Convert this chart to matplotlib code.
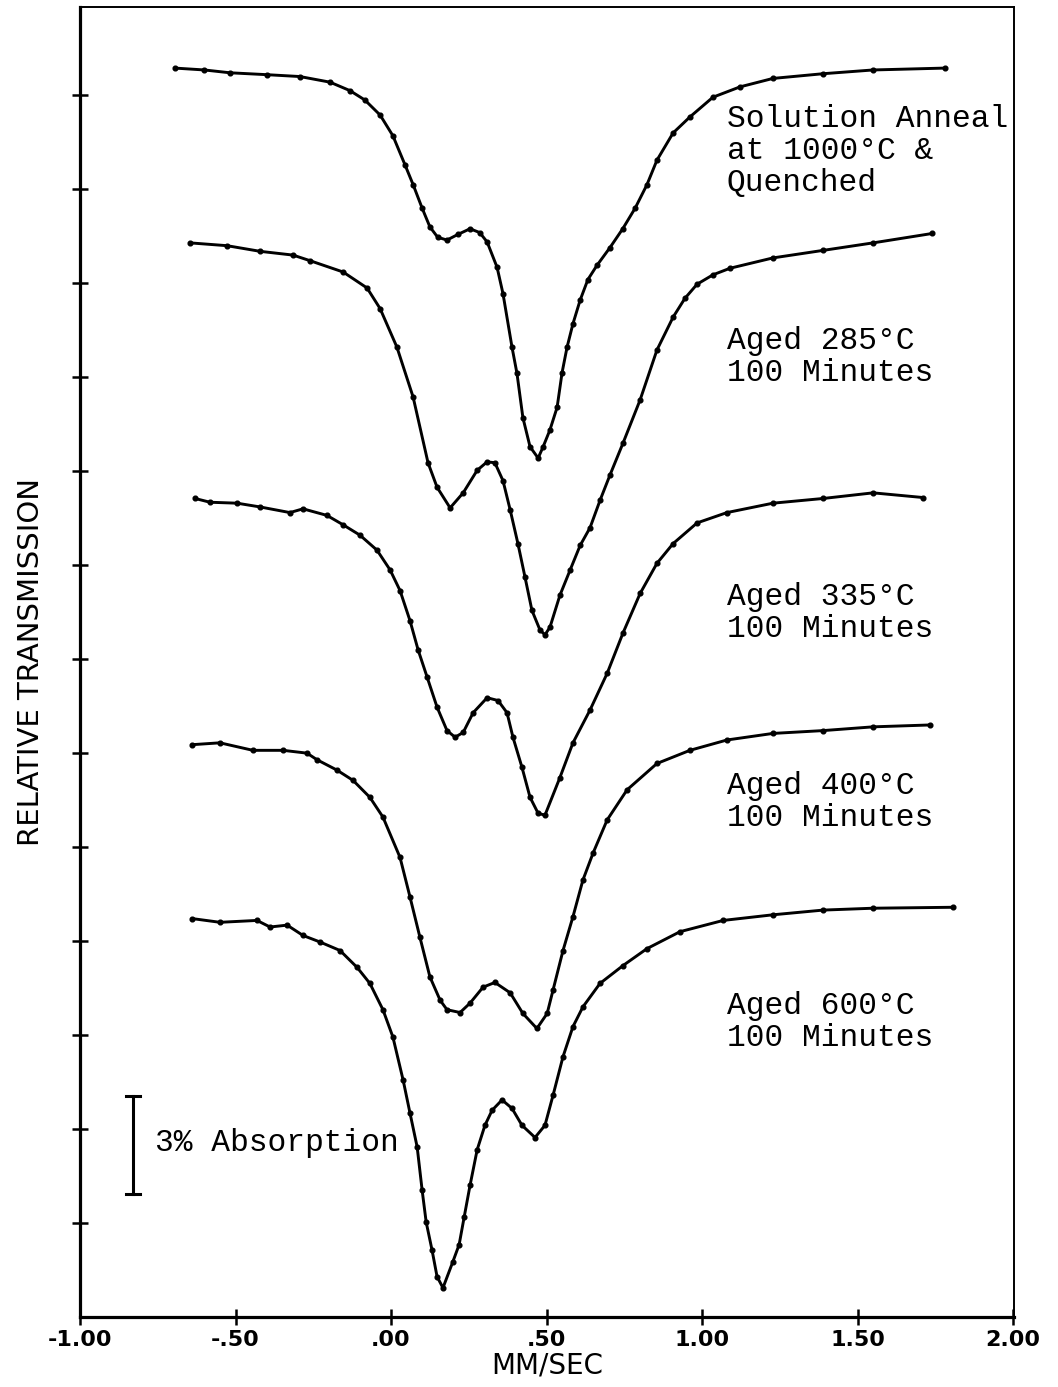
import matplotlib
matplotlib.use("Agg")
import matplotlib.pyplot as plt

# ---- data (velocity in mm/s, relative transmission in tick units; 1 unit ~ 3 %) ----
vel_quenched = [-0.695, -0.600, -0.518, -0.400, -0.293, -0.196, -0.132, -0.084, -0.035, 0.006,
                0.045, 0.071, 0.100, 0.125, 0.150, 0.180, 0.215, 0.254, 0.285, 0.309,
                0.341, 0.360, 0.389, 0.405, 0.424, 0.447, 0.473, 0.489, 0.511, 0.534,
                0.550, 0.566, 0.585, 0.608, 0.633, 0.662, 0.704, 0.745, 0.785, 0.823,
                0.855, 0.907, 0.961, 1.035, 1.122, 1.228, 1.389, 1.550, 1.781]
tr_quenched = [13.29, 13.27, 13.24, 13.22, 13.20, 13.14, 13.05, 12.95, 12.79, 12.57,
               12.26, 12.05, 11.80, 11.60, 11.49, 11.46, 11.52, 11.58, 11.54, 11.44,
               11.17, 10.89, 10.32, 10.04, 9.57, 9.26, 9.14, 9.26, 9.44, 9.68,
               10.05, 10.32, 10.57, 10.82, 11.04, 11.19, 11.38, 11.58, 11.80, 12.05,
               12.31, 12.60, 12.77, 12.98, 13.09, 13.18, 13.23, 13.27, 13.29]

vel_285 = [-0.646, -0.527, -0.421, -0.315, -0.260, -0.154, -0.077, -0.035, 0.019, 0.071,
           0.119, 0.148, 0.190, 0.232, 0.277, 0.309, 0.334, 0.360, 0.383, 0.408,
           0.431, 0.453, 0.479, 0.495, 0.511, 0.543, 0.576, 0.608, 0.640, 0.672,
           0.704, 0.746, 0.801, 0.855, 0.907, 0.945, 0.984, 1.035, 1.090, 1.228,
           1.389, 1.550, 1.740]
tr_285 = [11.43, 11.40, 11.34, 11.30, 11.24, 11.12, 10.95, 10.73, 10.32, 9.79,
          9.09, 8.83, 8.61, 8.77, 9.01, 9.10, 9.09, 8.90, 8.59, 8.23,
          7.87, 7.52, 7.31, 7.26, 7.34, 7.68, 7.95, 8.21, 8.40, 8.69,
          8.96, 9.30, 9.76, 10.29, 10.64, 10.84, 10.99, 11.09, 11.16, 11.27,
          11.35, 11.43, 11.53]

vel_335 = [-0.630, -0.582, -0.495, -0.421, -0.325, -0.283, -0.206, -0.154, -0.100, -0.045,
           -0.003, 0.029, 0.061, 0.087, 0.116, 0.148, 0.180, 0.206, 0.232, 0.264,
           0.309, 0.344, 0.373, 0.392, 0.421, 0.447, 0.473, 0.495, 0.543, 0.585,
           0.640, 0.695, 0.746, 0.801, 0.855, 0.907, 0.984, 1.080, 1.228, 1.389, 1.550, 1.711]
tr_335 = [8.71, 8.67, 8.66, 8.62, 8.56, 8.60, 8.53, 8.43, 8.32, 8.16,
          7.95, 7.73, 7.41, 7.10, 6.81, 6.49, 6.24, 6.17, 6.22, 6.43,
          6.59, 6.56, 6.43, 6.17, 5.85, 5.53, 5.36, 5.34, 5.74, 6.11,
          6.46, 6.85, 7.28, 7.70, 8.02, 8.23, 8.45, 8.56, 8.66, 8.71, 8.77, 8.72]

vel_400 = [-0.640, -0.550, -0.444, -0.347, -0.270, -0.238, -0.174, -0.122, -0.068, -0.026,
           0.029, 0.061, 0.093, 0.125, 0.158, 0.180, 0.222, 0.254, 0.296, 0.334,
           0.383, 0.424, 0.469, 0.502, 0.521, 0.553, 0.585, 0.617, 0.650, 0.695,
           0.759, 0.855, 0.961, 1.080, 1.228, 1.389, 1.550, 1.733]
tr_400 = [6.09, 6.11, 6.03, 6.03, 6.00, 5.93, 5.82, 5.71, 5.53, 5.32,
          4.89, 4.47, 4.04, 3.62, 3.37, 3.27, 3.24, 3.34, 3.51, 3.56,
          3.45, 3.23, 3.07, 3.23, 3.48, 3.90, 4.26, 4.65, 4.94, 5.29,
          5.61, 5.89, 6.03, 6.14, 6.21, 6.24, 6.28, 6.30]

vel_600 = [-0.640, -0.550, -0.431, -0.389, -0.334, -0.283, -0.228, -0.164, -0.109, -0.068,
           -0.026, 0.006, 0.039, 0.061, 0.084, 0.100, 0.113, 0.132, 0.148, 0.167,
           0.199, 0.219, 0.235, 0.254, 0.277, 0.302, 0.325, 0.357, 0.389, 0.421,
           0.463, 0.495, 0.521, 0.553, 0.585, 0.617, 0.672, 0.746, 0.823, 0.929,
           1.068, 1.228, 1.389, 1.550, 1.807]
tr_600 = [4.24, 4.20, 4.22, 4.15, 4.17, 4.06, 3.99, 3.90, 3.72, 3.55,
          3.27, 2.98, 2.52, 2.17, 1.81, 1.35, 1.01, 0.71, 0.43, 0.31,
          0.59, 0.77, 1.06, 1.40, 1.78, 2.04, 2.20, 2.31, 2.22, 2.04,
          1.91, 2.04, 2.36, 2.77, 3.09, 3.30, 3.55, 3.74, 3.92, 4.10,
          4.22, 4.28, 4.33, 4.35, 4.36]

series = [(vel_quenched, tr_quenched), (vel_285, tr_285), (vel_335, tr_335),
          (vel_400, tr_400), (vel_600, tr_600)]

labels = [["Solution Anneal", "at 1000\u00b0C &", "Quenched"],
          ["Aged 285\u00b0C", "100 Minutes"],
          ["Aged 335\u00b0C", "100 Minutes"],
          ["Aged 400\u00b0C", "100 Minutes"],
          ["Aged 600\u00b0C", "100 Minutes"]]
label_rows = [[119, 151, 183], [341, 373], [597, 629], [786, 818], [1006, 1038]]

x_ticks = [-1.0, -0.5, 0.0, 0.5, 1.0, 1.5, 2.0]
x_tick_labels = ["-1.00", "-.50", ".00", ".50", "1.00", "1.50", "2.00"]
y_ticks = list(range(1, 14))

scale_x = -0.83
scale_y = (1.31, 2.35)   # 3 % absorption

# ---- figure ----
W, H = 1058, 1387
fig = plt.figure(figsize=(W / 100, H / 100), dpi=100)
ax = fig.add_axes([80 / W, 70 / H, (1014 - 80) / W, (1317 - 7) / H])
ax.set_xlim(-1.0, 2.003)
ax.set_ylim(0, 13.94)

for v, t in series:
    ax.plot(v, t, color="black", lw=2.1, marker="o", ms=3.4,
            solid_joinstyle="round", solid_capstyle="round")

# scale bar
ax.plot([scale_x, scale_x], scale_y, color="black", lw=2.2)
for yy in scale_y:
    ax.plot([scale_x - 0.022, scale_x + 0.022], [yy, yy], color="black", lw=2.2)
fig.text(155 / W, 1 - 1143 / H, "3% Absorption", family="Liberation Mono",
         fontsize=22.5, ha="left", va="center")

# series labels
for lines, rows in zip(labels, label_rows):
    for s, r in zip(lines, rows):
        fig.text(727 / W, 1 - r / H, s, family="Liberation Mono", fontsize=22.5,
                 ha="left", va="center")

# axes styling
for side in ["left", "bottom"]:
    ax.spines[side].set_linewidth(2.3)
for side in ["top", "right"]:
    ax.spines[side].set_linewidth(1.4)

ax.set_xticks(x_ticks)
ax.set_xticklabels(x_tick_labels, fontsize=16, fontweight="bold")
ax.set_yticks(y_ticks)
ax.set_yticklabels([])
ax.tick_params(axis="both", direction="inout", length=11, width=1.8, pad=4)

fig.text(547 / W, 1 - 1366 / H, "MM/SEC", fontsize=20, ha="center", va="center",
         family="DejaVu Sans")
fig.text(31 / W, 1 - 662 / H, "RELATIVE TRANSMISSION", fontsize=21, rotation=90,
         ha="center", va="center", family="DejaVu Sans")

fig.savefig("out.png", dpi=100, facecolor="white")
